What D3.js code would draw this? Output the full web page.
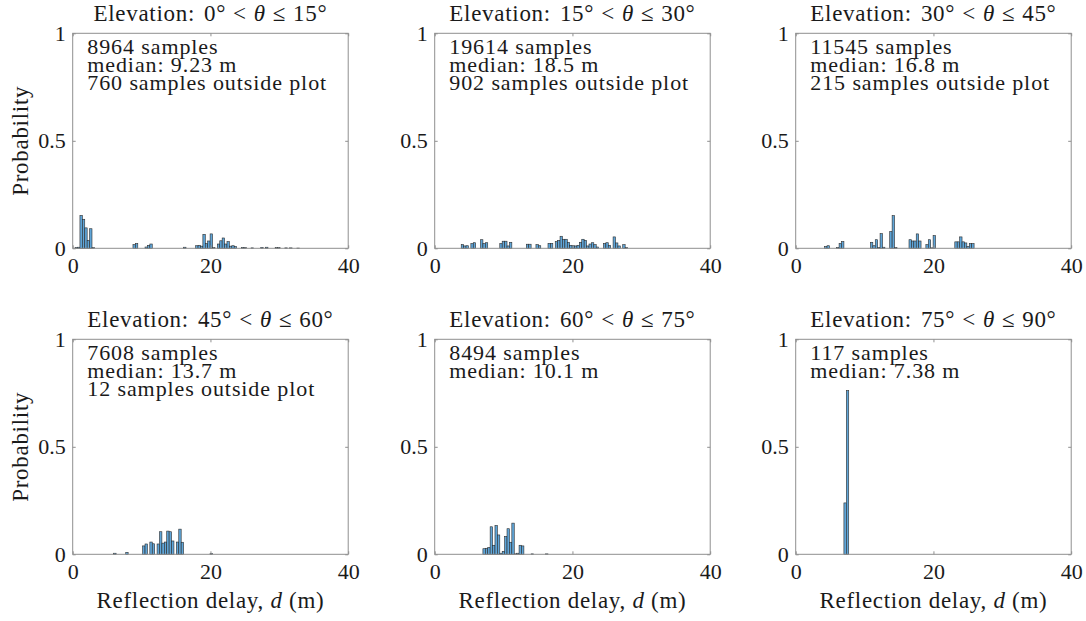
<!DOCTYPE html>
<html lang="en">
<head>
<meta charset="UTF-8">
<title>Reflection delay histograms</title>
<style>
    body { margin: 0; background: #fff; }
    svg text { font-family: 'Liberation Serif', 'Times New Roman', serif; fill: #1a1a1a; }
    .axis .tick line { stroke: #8f8f8f; }
    .axis .domain { display: none; }
    .axis text { font-size: 22px; }
    .frame { fill: none; stroke: #8f8f8f; stroke-width: 1; }
    .bar { fill: #5fa5d8; stroke: #2b2b2b; stroke-width: 0.6; }
    .note { font-size: 22px; letter-spacing: 0.9px; }
    .title { font-size: 23px; letter-spacing: 0.7px; }
    .label { font-size: 23px; letter-spacing: 0.7px; }
</style>
</head>
<body>
<div id="chart"></div>
<script src="https://cdn.jsdelivr.net/npm/d3@7"></script>
<script>
    const width = 1086;
    const height = 621;

    // histogram bins: 100 bins of 0.35 m from 0 to 35 m
    const binWidth = 0.35;
    const nBins = 100;

    const titles = ["0°", "15°", "30°", "45°", "60°", "75°", "90°"];
    const xTicks = [0, 20, 40];
    const yTicks = [0, 0.5, 1];

    const notes = [
        ["8964 samples", "median: 9.23 m", "760 samples outside plot"],
        ["19614 samples", "median: 18.5 m", "902 samples outside plot"],
        ["11545 samples", "median: 16.8 m", "215 samples outside plot"],
        ["7608 samples", "median: 13.7 m", "12 samples outside plot"],
        ["8494 samples", "median: 10.1 m"],
        ["117 samples", "median: 7.38 m"]
    ];

    // non-empty bins (index) and their probability
    const bins1 = [1, 2, 3, 4, 5, 6, 7, 8, 25, 26, 30, 31, 32, 46, 51, 52, 53, 54, 55, 56, 57, 58, 60, 61, 62, 63, 64, 65, 66, 67, 70, 71, 74, 78, 80, 84, 85, 88, 90, 93];
    const prob1 = [0.004, 0.005, 0.153, 0.135, 0.095, 0.037, 0.091, 0.003, 0.017, 0.022, 0.006, 0.014, 0.02, 0.005, 0.012, 0.014, 0.01, 0.065, 0.022, 0.034, 0.067, 0.003, 0.02, 0.035, 0.048, 0.02, 0.031, 0.01, 0.012, 0.008, 0.004, 0.003, 0.002, 0.004, 0.005, 0.003, 0.003, 0.002, 0.002, 0.001];

    const bins2 = [11, 12, 13, 15, 16, 19, 20, 21, 27, 28, 29, 30, 31, 38, 39, 42, 43, 47, 48, 50, 51, 52, 53, 54, 55, 56, 57, 58, 59, 60, 61, 62, 63, 64, 65, 66, 67, 70, 71, 72, 74, 75, 76, 78, 79];
    const prob2 = [0.017, 0.011, 0.012, 0.022, 0.026, 0.04, 0.022, 0.026, 0.022, 0.033, 0.033, 0.011, 0.028, 0.019, 0.019, 0.017, 0.012, 0.023, 0.023, 0.031, 0.037, 0.056, 0.042, 0.042, 0.028, 0.014, 0.012, 0.011, 0.014, 0.028, 0.042, 0.037, 0.011, 0.02, 0.026, 0.017, 0.006, 0.022, 0.026, 0.014, 0.053, 0.025, 0.011, 0.017, 0.003];

    const bins3 = [12, 13, 17, 18, 19, 31, 32, 33, 34, 35, 36, 39, 40, 41, 47, 48, 49, 50, 51, 54, 55, 56, 57, 66, 67, 68, 69, 70, 71, 72, 73];
    const prob3 = [0.008, 0.012, 0.004, 0.022, 0.031, 0.028, 0.012, 0.04, 0.004, 0.068, 0.005, 0.078, 0.152, 0.004, 0.04, 0.034, 0.034, 0.067, 0.034, 0.017, 0.04, 0.002, 0.059, 0.03, 0.03, 0.053, 0.03, 0.025, 0.008, 0.022, 0.022];

    const bins4 = [17, 22, 29, 30, 32, 33, 35, 36, 37, 38, 39, 40, 41, 43, 44, 45, 57];
    const prob4 = [0.005, 0.009, 0.039, 0.048, 0.057, 0.049, 0.048, 0.105, 0.052, 0.057, 0.108, 0.105, 0.062, 0.057, 0.117, 0.056, 0.004];

    const bins5 = [20, 21, 22, 23, 24, 25, 26, 27, 28, 29, 30, 31, 32, 33, 34, 35, 36, 40, 46];
    const prob5 = [0.026, 0.028, 0.032, 0.128, 0.042, 0.134, 0.09, 0.005, 0.014, 0.083, 0.119, 0.056, 0.145, 0.002, 0.005, 0.042, 0.039, 0.002, 0.002];

    const bins6 = [20, 21];
    const prob6 = [0.239, 0.761];

    const allBins = [bins1, bins2, bins3, bins4, bins5, bins6];
    const allProb = [prob1, prob2, prob3, prob4, prob5, prob6];

    const colX = [72.7, 434.7, 795.7];
    const rowY = [33.3, 339.3];
    const plotW = 275.5;
    const plotH = 215;

    const x = d3.scaleLinear().domain([0, 40]).range([0, plotW]);
    const y = d3.scaleLinear().domain([0, 1]).range([plotH, 0]);

    const svg = d3.select('#chart')
        .append('svg')
        .attr('width', width)
        .attr('height', height);

    allBins.forEach((binIdx, p) => {
        const col = p % 3;
        const row = Math.floor(p / 3);
        const g = svg.append('g')
            .attr('transform', `translate(${colX[col]}, ${rowY[row]})`);

        // full set of bins, empty ones drawn flat on the baseline
        const lookup = new Map(binIdx.map((b, i) => [b, allProb[p][i]]));
        const hist = d3.range(nBins).map(i => ({ x0: i * binWidth, x1: (i + 1) * binWidth, v: lookup.get(i) || 0 }));

        g.selectAll('.bar')
            .data(hist)
            .enter()
            .append('rect')
            .attr('class', 'bar')
            .attr('x', d => x(d.x0))
            .attr('width', d => x(d.x1) - x(d.x0))
            .attr('y', d => y(d.v))
            .attr('height', d => y(0) - y(d.v));

        g.append('rect')
            .attr('class', 'frame')
            .attr('width', plotW)
            .attr('height', plotH);

        // ticks on all four sides, pointing inwards
        g.append('g')
            .attr('class', 'axis')
            .attr('transform', `translate(0, ${plotH})`)
            .call(d3.axisBottom(x).tickValues(xTicks).tickSize(-3).tickSizeOuter(0).tickPadding(9));
        g.append('g')
            .attr('class', 'axis')
            .call(d3.axisTop(x).tickValues(xTicks).tickSize(-3).tickSizeOuter(0).tickFormat(''));
        g.append('g')
            .attr('class', 'axis')
            .call(d3.axisLeft(y).tickValues(yTicks).tickSize(-3).tickSizeOuter(0).tickPadding(7).tickFormat(d3.format('')));
        g.append('g')
            .attr('class', 'axis')
            .attr('transform', `translate(${plotW}, 0)`)
            .call(d3.axisRight(y).tickValues(yTicks).tickSize(-3).tickSizeOuter(0).tickFormat(''));

        // title, with math spacing around the relations
        const t = g.append('text')
            .attr('class', 'title')
            .attr('x', plotW / 2)
            .attr('y', -12)
            .attr('text-anchor', 'middle');
        t.append('tspan').text('Elevation:');
        t.append('tspan').attr('dx', 9).text(titles[p]);
        t.append('tspan').attr('dx', 7).text('<');
        t.append('tspan').attr('dx', 7).style('font-style', 'italic').text('θ');
        t.append('tspan').attr('dx', 7).text('≤');
        t.append('tspan').attr('dx', 7).text(titles[p + 1]);

        // annotation: one multi-line text block
        const note = g.append('text')
            .attr('class', 'note')
            .attr('y', 20.5);
        notes[p].forEach((line, i) => {
            note.append('tspan')
                .attr('x', 14.6)
                .attr('dy', i === 0 ? 0 : 18)
                .text(line);
        });

        if (col === 0) {
            g.append('text')
                .attr('class', 'label')
                .attr('transform', `translate(-45, ${plotH / 2}) rotate(-90)`)
                .attr('text-anchor', 'middle')
                .text('Probability');
        }
        if (row === 1) {
            const xl = g.append('text')
                .attr('class', 'label')
                .attr('x', plotW / 2)
                .attr('y', plotH + 54)
                .attr('text-anchor', 'middle');
            xl.append('tspan').text('Reflection delay, ');
            xl.append('tspan').style('font-style', 'italic').text('d');
            xl.append('tspan').text(' (m)');
        }
    });
</script>
</body>
</html>
